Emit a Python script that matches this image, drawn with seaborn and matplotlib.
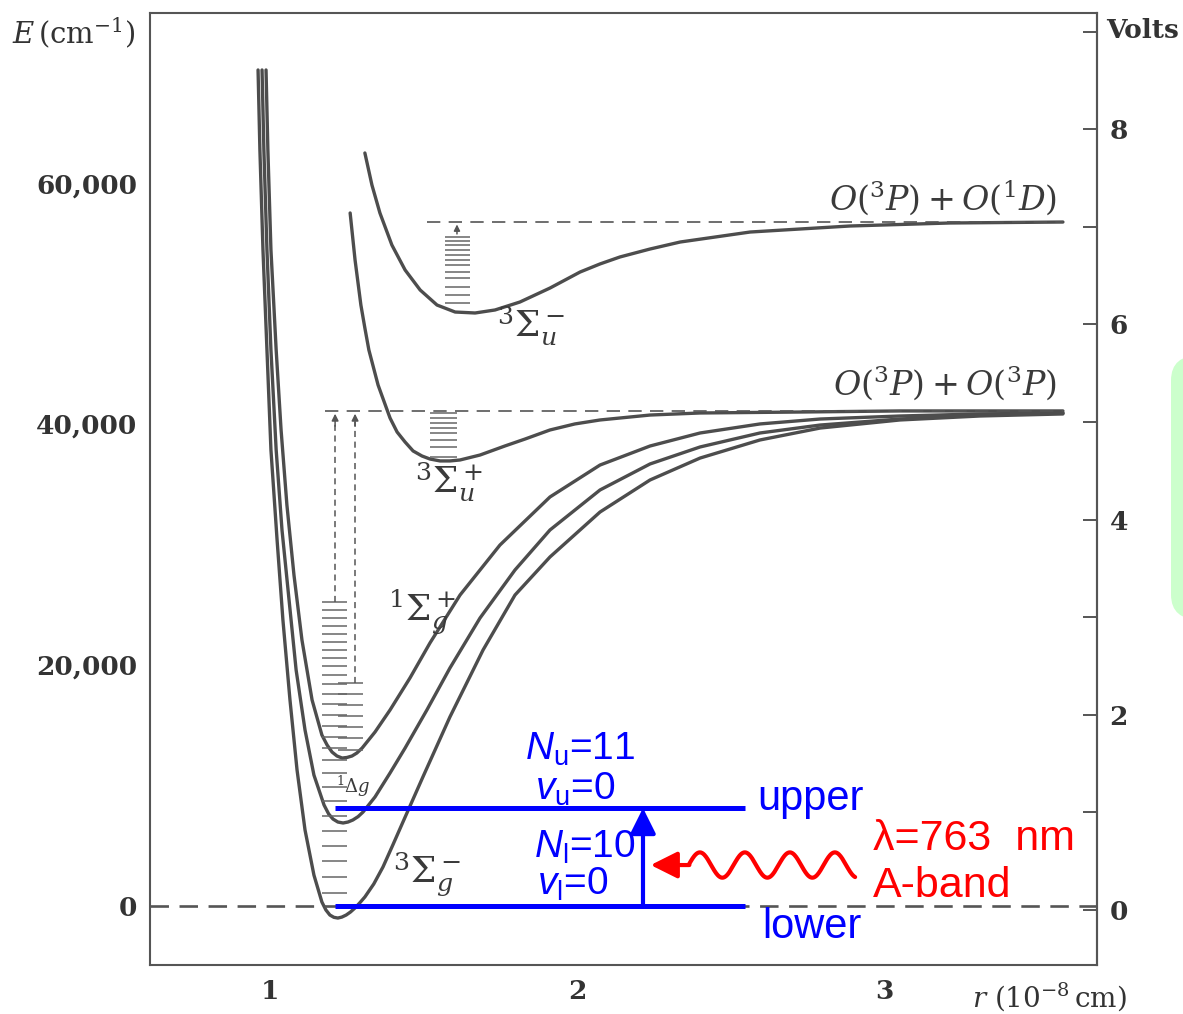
import numpy as np
import pandas as pd
import matplotlib
matplotlib.use("Agg")
import matplotlib.pyplot as plt
import seaborn as sns
from matplotlib.patches import FancyBboxPatch

# ---------------- data: r in 1e-8 cm, E in cm^-1 ----------------
# X 3Sigma_g^-  (ground state)
X_r = [0.961, 0.967, 0.977, 0.990, 1.003, 1.023, 1.042, 1.065, 1.088, 1.114, 1.143, 1.169,
       1.182, 1.195, 1.208, 1.221, 1.234, 1.248, 1.262, 1.277, 1.293, 1.309, 1.338, 1.368,
       1.400, 1.433, 1.498, 1.586, 1.694, 1.798, 1.912, 2.075, 2.238, 2.401, 2.596, 2.792,
       3.052, 3.313, 3.583]
X_E = [69390, 62750, 54450, 46150, 37850, 30380, 23740, 17100, 11290, 6310, 2570, 330,
       -330, -750, -940, -1000, -920, -750, -500, -160, 280, 750, 1830, 3240,
       5060, 6970, 10710, 15690, 21250, 25810, 28970, 32700, 35360, 37180, 38680, 39670,
       40340, 40670, 40840]
# a 1Delta_g
a_r = [0.974, 0.980, 0.990, 1.003, 1.020, 1.039, 1.062, 1.085, 1.114, 1.143, 1.176, 1.191,
       1.205, 1.221, 1.238, 1.254, 1.270, 1.287, 1.303, 1.342, 1.391, 1.440, 1.511, 1.586,
       1.684, 1.798, 1.912, 2.075, 2.238, 2.401, 2.596, 2.792, 3.052, 3.313, 3.583]
a_E = [69390, 62750, 54450, 46150, 37850, 31210, 25400, 19590, 14610, 10870, 8380, 7640,
       7220, 6970, 6890, 6970, 7140, 7420, 7800, 9050, 11040, 13110, 16270, 19750,
       23900, 27890, 31210, 34530, 36690, 38100, 39260, 39920, 40420, 40750, 40920]
# b 1Sigma_g^+
b_r = [0.987, 0.993, 1.003, 1.020, 1.036, 1.055, 1.078, 1.104, 1.137, 1.169, 1.186, 1.202,
       1.218, 1.235, 1.251, 1.267, 1.283, 1.300, 1.342, 1.391, 1.456, 1.521, 1.619, 1.749,
       1.912, 2.075, 2.238, 2.401, 2.596, 2.792, 3.052, 3.313, 3.583]
b_E = [69390, 62750, 54450, 46150, 39510, 33280, 27470, 22080, 17100, 14190, 13360, 12780,
       12450, 12280, 12330, 12450, 12700, 13110, 14440, 16270, 18930, 21830, 25810, 29960,
       33950, 36600, 38180, 39260, 40010, 40420, 40670, 40840, 40920]
# A 3Sigma_u^+
A_r = [1.261, 1.277, 1.296, 1.309, 1.322, 1.352, 1.391, 1.414, 1.440, 1.466, 1.495, 1.521,
       1.554, 1.586, 1.619, 1.684, 1.765, 1.831, 1.912, 1.993, 2.075, 2.238, 2.401, 2.726,
       3.052, 3.583]
A_E = [57520, 53620, 49880, 47970, 46150, 43240, 40500, 39340, 38510, 37770, 37350, 37100,
       36940, 36940, 37020, 37430, 38180, 38760, 39510, 40010, 40340, 40750, 40920, 41000,
       41090, 41090]
# B 3Sigma_u^-
B_r = [1.309, 1.332, 1.358, 1.397, 1.440, 1.489, 1.544, 1.603, 1.668, 1.733, 1.814, 1.912,
       2.010, 2.075, 2.140, 2.238, 2.336, 2.564, 2.726, 2.889, 3.215, 3.583]
B_E = [62500, 59840, 57520, 54860, 52790, 51130, 49880, 49300, 49220, 49470, 50130, 51290,
       52620, 53290, 53870, 54530, 55110, 55940, 56190, 56440, 56690, 56770]

D1 = 41090          # O(3P)+O(3P)
D2 = 56800          # O(3P)+O(1D)

# vibrational levels
lev_X_E = [1080, 2410, 3735, 4980, 6225, 7470, 8715, 9880, 11040, 12120, 13110, 14030,
           14940, 15850, 16770, 17600, 18430, 19170, 19920, 20580, 21250, 21910, 22580,
           23240, 23900, 24570, 25230]
lev_X_r = (1.169, 1.251)
lev_b_E = [12950, 13940, 14860, 15770, 16680, 17600, 18510]
lev_b_r = (1.222, 1.303)
lev_A_E = [37270, 38100, 38680, 39260, 39670, 40090, 40500, 40920]
lev_A_r = (1.521, 1.609)
lev_B_E = [50030, 50720, 51400, 52100, 52650, 53200, 53620, 54040, 54450, 54840, 55220, 55550]
lev_B_r = (1.570, 1.651)

# A-band transition
lower_E, upper_E = 0, 8130
band_r = (1.212, 2.547)
arrow_r = 2.215

xticks = [1, 1.5, 2, 2.5, 3, 3.5]
xticklabels = ["1", "", "2", "", "3", ""]
yticks = [0, 10000, 20000, 30000, 40000, 50000, 60000, 70000]
yticklabels = ["0", "", "20,000", "", "40,000", "", "60,000", ""]
vticks = [0, 2, 4, 6, 8]
vminor = [1, 3, 5, 7, 9]

# ---------------- figure ----------------
sns.set_theme(style="white")
plt.rcParams["font.family"] = ["DejaVu Serif"]
plt.rcParams["mathtext.fontset"] = "custom"
plt.rcParams["mathtext.rm"] = "Liberation Sans"
plt.rcParams["mathtext.it"] = "Liberation Sans:italic"
plt.rcParams["mathtext.bf"] = "Liberation Sans:bold"

W, H = 1183, 1014
fig = plt.figure(figsize=(W / 100, H / 100), dpi=100)
fig.patch.set_facecolor("white")
ax = fig.add_axes([150 / W, (H - 965) / H, 947 / W, 952 / H])
ax.set_facecolor("white")

GR = "#4d4d4d"
curves = pd.concat([
    pd.DataFrame({"r": X_r, "E": X_E, "state": "X"}),
    pd.DataFrame({"r": a_r, "E": a_E, "state": "a"}),
    pd.DataFrame({"r": b_r, "E": b_E, "state": "b"}),
    pd.DataFrame({"r": A_r, "E": A_E, "state": "A"}),
    pd.DataFrame({"r": B_r, "E": B_E, "state": "B"}),
])
sns.lineplot(data=curves, x="r", y="E", units="state", estimator=None, sort=False,
             color=GR, lw=2.4, ax=ax, legend=False)

ax.set_xlim(0.609, 3.694)
ax.set_ylim(-4897, 74119)

# dashed limits
ax.plot([0.609, 3.694], [0, 0], color="#555", lw=1.9, dashes=(7, 4))
ax.plot([1.179, 3.583], [D1, D1], color="#555", lw=1.2, dashes=(8, 5))
ax.plot([1.511, 3.583], [D2, D2], color="#555", lw=1.2, dashes=(8, 5))

# vibrational levels
for lev, rr in [(lev_X_E, lev_X_r), (lev_b_E, lev_b_r), (lev_A_E, lev_A_r), (lev_B_E, lev_B_r)]:
    ax.hlines(lev, rr[0], rr[1], color="#666", lw=1.1)

# dashed arrows to dissociation limit
for r0, e0, e1 in [(1.212, 25230, D1), (1.277, 18510, D1)]:
    ax.plot([r0, r0], [e0, e1 - 900], color="#555", lw=1.1, dashes=(4, 3))
    ax.annotate("", xy=(r0, e1), xytext=(r0, e1 - 1500),
                arrowprops=dict(arrowstyle="-|>", color="#555", lw=1.1, mutation_scale=10))
ax.annotate("", xy=(1.609, D2), xytext=(1.609, 55550),
            arrowprops=dict(arrowstyle="-|>", color="#555", lw=1.1, mutation_scale=9))

# blue levels & arrow
BL = "#0000ff"
ax.plot(band_r, [upper_E, upper_E], color=BL, lw=3.6, solid_capstyle="butt")
ax.plot(band_r, [lower_E, lower_E], color=BL, lw=3.6, solid_capstyle="butt")
ax.annotate("", xy=(arrow_r, upper_E), xytext=(arrow_r, lower_E),
            arrowprops=dict(arrowstyle="-|>,head_length=0.7,head_width=0.35", color=BL,
                            lw=3.0, mutation_scale=22, shrinkA=0, shrinkB=0))

# red wavy photon
RD = "#ff0000"
Ec, Amp, P, rc = 3400, 1050, 0.1466, 2.840
wr = np.linspace(2.906, 2.364, 300)
wE = Ec + Amp * np.cos(2 * np.pi * (wr - rc) / P)
ax.plot(wr, wE, color=RD, lw=3.0, solid_capstyle="round")
ax.annotate("", xy=(2.240, Ec), xytext=(2.366, Ec),
            arrowprops=dict(arrowstyle="-|>,head_length=0.9,head_width=0.45", color=RD,
                            lw=3.0, mutation_scale=18, shrinkA=0, shrinkB=0))

# texts -- sans annotations
sans = dict(family="Liberation Sans", math_fontfamily="custom")
ax.text(2.010, 12120, r"$N_\mathrm{u}$=11", color=BL, ha="center", va="baseline", fontsize=28, **sans)
ax.text(1.993, 8800, r"$v_\mathrm{u}$=0", color=BL, ha="center", va="baseline", fontsize=28, **sans)
ax.text(2.026, 3980, r"$N_\mathrm{l}$=10", color=BL, ha="center", va="baseline", fontsize=28, **sans)
ax.text(1.987, 910, r"$v_\mathrm{l}$=0", color=BL, ha="center", va="baseline", fontsize=28, **sans)
ax.text(2.586, 7970, "upper", color=BL, ha="left", va="baseline", fontsize=30, **sans)
ax.text(2.602, -2660, "lower", color=BL, ha="left", va="baseline", fontsize=30, **sans)
ax.text(2.964, 4650, "λ=763  nm", color=RD, ha="left", va="baseline", fontsize=31, **sans)
ax.text(2.964, 750, "A-band", color=RD, ha="left", va="baseline", fontsize=31, **sans)

# texts -- serif state labels
ser = dict(math_fontfamily="dejavuserif", color="#3a3a3a")
ax.text(1.739, 47230, r"$^3\Sigma_u^-$", fontsize=26, ha="left", va="baseline", **ser)
ax.text(1.472, 34280, r"$^3\Sigma_u^+$", fontsize=26, ha="left", va="baseline", **ser)
ax.text(1.384, 23740, r"$^1\Sigma_g^+$", fontsize=26, ha="left", va="baseline", **ser)
ax.text(1.401, 1910, r"$^3\Sigma_g^-$", fontsize=26, ha="left", va="baseline", **ser)
ax.text(1.215, 9380, r"$^1\Delta g$", fontsize=13, ha="left", va="baseline", **ser)
ax.text(3.564, 57770, r"$O(^3P)+O(^1D)$", fontsize=24, ha="right", va="baseline", **ser)
ax.text(3.564, 42410, r"$O(^3P)+O(^3P)$", fontsize=24, ha="right", va="baseline", **ser)

# axes styling
SP = "#555"
for s in ax.spines.values():
    s.set_color(SP)
    s.set_linewidth(1.5)
ax.set_xticks(xticks, labels=xticklabels, fontweight="bold")
ax.set_yticks(yticks, labels=yticklabels, fontweight="bold")
ax.tick_params(axis="both", which="both", direction="in", length=10, width=1.4,
               colors=SP, labelcolor="#333", labelsize=19, right=False, top=False)
ax.tick_params(axis="x", pad=10)
ax.tick_params(axis="y", pad=9)
ax.set_xlabel("")
ax.set_ylabel("")

sec = ax.secondary_yaxis("right", functions=(lambda e: (np.asarray(e) + 330.0) / 8100.0,
                                             lambda v: np.asarray(v) * 8100.0 - 330.0))
sec.set_ticks(vticks, labels=[str(v) for v in vticks], fontweight="bold")
sec.set_ticks(vminor, minor=True)
sec.tick_params(axis="y", which="both", direction="in", length=10, width=1.4,
                colors=SP, labelcolor="#333", labelsize=19, pad=9)
sec.spines["right"].set_color(SP)
sec.spines["right"].set_linewidth(1.5)

# axis titles in figure pixels
def fxy(x, y):
    return x / W, 1 - y / H

fig.text(*fxy(12, 33), r"$E\,(\mathrm{cm}^{-1})$", fontsize=21, ha="left", va="center",
         math_fontfamily="dejavuserif", color="#333")
fig.text(*fxy(1106, 30), "Volts", fontsize=19, fontweight="bold", ha="left", va="center",
         color="#333")
fig.text(*fxy(972, 997), r"$r\ (10^{-8}\,\mathrm{cm})$", fontsize=20, ha="left",
         va="center", math_fontfamily="dejavuserif", color="#333")

# green box at right edge
box = FancyBboxPatch((1171 / W, (H - 620) / H), 80 / W, 265 / H,
                     boxstyle="round,pad=0,rounding_size=0.025", transform=fig.transFigure,
                     facecolor="#ccffcc", edgecolor="none")
fig.add_artist(box)

fig.savefig("out.png", dpi=100)
